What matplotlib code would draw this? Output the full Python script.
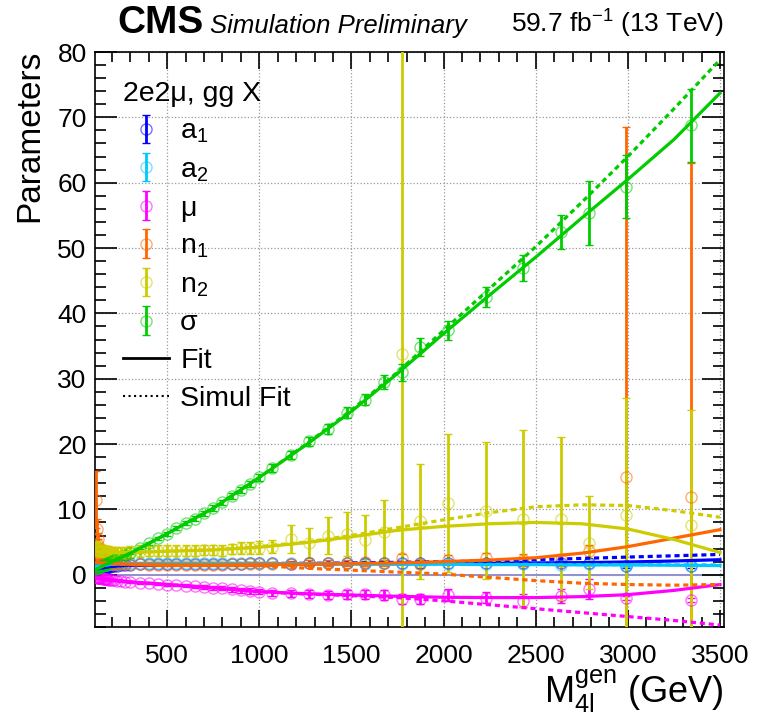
import matplotlib
matplotlib.use('Agg')
import matplotlib.pyplot as plt
from matplotlib.lines import Line2D
from matplotlib.colors import to_rgba
from matplotlib.ticker import MultipleLocator

plt.rcParams['font.family'] = ['Liberation Sans', 'DejaVu Sans']
plt.rcParams['mathtext.fontset'] = 'custom'
plt.rcParams['mathtext.rm'] = 'Liberation Sans'
plt.rcParams['mathtext.it'] = 'Liberation Sans:italic'
plt.rcParams['mathtext.bf'] = 'Liberation Sans:bold'

# mass points (GeV)
masses = [115, 120, 124, 125, 126, 130, 135, 140, 145, 150,
          155, 160, 165, 170, 175, 180, 190, 200, 210, 230,
          250, 270, 300, 350, 400, 450, 500, 550, 600, 650,
          700, 750, 800, 850, 900, 950, 1000, 1070, 1170, 1270,
          1370, 1475, 1575, 1675, 1775, 1870, 2025, 2230, 2430, 2635,
          2790, 2990, 3345]

a1 = [0.7, 0.75, 0.8, 0.8, 0.8, 0.85, 0.9, 0.9, 0.95, 1.0,
      1.0, 1.05, 1.1, 1.1, 1.15, 1.2, 1.25, 1.3, 1.35, 1.4,
      1.45, 1.5, 1.55, 1.6, 1.6, 1.65, 1.65, 1.65, 1.7, 1.7,
      1.7, 1.7, 1.7, 1.7, 1.7, 1.75, 1.75, 1.75, 1.7, 1.75,
      1.75, 1.8, 1.75, 1.8, 1.8, 1.75, 1.8, 1.8, 1.8, 1.8,
      1.8, 1.35, 1.4]
a1_err = [0.1] * 37 + [0.1, 0.1, 0.1, 0.1, 0.15, 0.15, 0.15, 0.2, 0.2,
                       0.2, 0.2, 0.25, 0.25, 0.3, 0.3, 0.3]

a2 = [1.2, 1.25, 1.3, 1.3, 1.3, 1.35, 1.4, 1.4, 1.45, 1.5,
      1.5, 1.5, 1.55, 1.55, 1.6, 1.6, 1.65, 1.65, 1.7, 1.7,
      1.75, 1.75, 1.8, 1.8, 1.8, 1.8, 1.8, 1.8, 1.8, 1.8,
      1.8, 1.8, 1.8, 1.8, 1.8, 1.8, 1.8, 1.8, 1.8, 1.75,
      1.8, 1.75, 1.7, 1.75, 1.7, 1.6, 1.7, 1.6, 1.6, 1.55,
      1.6, 1.3, 1.4]
a2_err = [0.1] * 53

mu = [-0.4, -0.4, -0.45, -0.45, -0.45, -0.5, -0.5, -0.55, -0.55, -0.6,
      -0.6, -0.65, -0.65, -0.7, -0.7, -0.75, -0.75, -0.8, -0.85, -0.9,
      -1.0, -1.05, -1.1, -1.2, -1.3, -1.4, -1.5, -1.6, -1.7, -1.8,
      -1.9, -2.0, -2.1, -2.25, -2.4, -2.5, -2.6, -2.8, -2.85, -2.95,
      -3.05, -3.0, -3.0, -3.1, -3.7, -3.7, -3.1, -3.5, -4.0, -3.3,
      -2.2, -3.6, -3.8]
mu_err = [0.1] * 22 + [0.1, 0.15, 0.15, 0.2, 0.2, 0.2, 0.25, 0.25, 0.3,
                       0.3, 0.3, 0.35, 0.35, 0.4, 0.4, 0.5, 0.5, 0.6, 0.6,
                       0.7, 0.7, 0.8, 0.8, 0.8, 0.9, 0.8, 1.0, 1.1, 1.5,
                       0.3, 0.3]

n1 = [11.5, 7.0, 5.4, 4.6, 3.8, 3.2, 2.8, 2.5, 2.3, 2.1,
      2.0, 1.9, 1.85, 1.8, 1.8, 1.75, 1.7, 1.7, 1.65, 1.65,
      1.6, 1.6, 1.6, 1.6, 1.55, 1.55, 1.55, 1.55, 1.55, 1.55,
      1.55, 1.55, 1.55, 1.6, 1.6, 1.6, 1.6, 1.6, 1.7, 1.8,
      1.8, 1.8, 1.9, 1.8, 2.6, 1.7, 2.3, 2.6, 2.3, 2.3,
      3.6, 15.0, 11.9]
n1_err = [4.3, 1.5, 1.0, 0.8, 0.7, 0.5, 0.4, 0.3, 0.3, 0.3,
          0.2, 0.2, 0.2, 0.2, 0.2, 0.2, 0.2, 0.2, 0.2, 0.2,
          0.2, 0.2, 0.2, 0.2, 0.2, 0.2, 0.2, 0.2, 0.2, 0.2,
          0.2, 0.2, 0.25, 0.25, 0.25, 0.3, 0.3, 0.3, 0.35, 0.4,
          0.4, 0.45, 0.5, 0.5, 0.6, 0.6, 0.7, 0.8, 0.9, 0.9,
          1.0, 53.5, 51.1]

n2 = [4.0, 3.9, 3.8, 3.8, 3.8, 3.7, 3.7, 3.6, 3.6, 3.6,
      3.5, 3.5, 3.5, 3.5, 3.5, 3.5, 3.4, 3.4, 3.4, 3.4,
      3.4, 3.4, 3.5, 3.6, 3.6, 3.7, 3.7, 3.7, 3.7, 3.7,
      3.8, 3.8, 3.7, 3.9, 4.1, 4.1, 4.1, 4.3, 5.5, 4.8,
      6.0, 6.2, 5.3, 6.5, 33.8, 8.2, 11.0, 9.8, 8.6, 8.6,
      4.9, 9.1, 7.6]
n2_err = [1.2, 1.1, 1.0, 1.0, 1.0, 1.0, 0.9, 0.9, 0.9, 0.9,
          0.9, 0.9, 0.9, 0.9, 0.9, 0.9, 0.9, 0.9, 0.9, 0.9,
          0.9, 0.9, 0.9, 0.9, 0.8, 0.8, 0.8, 0.8, 0.8, 0.8,
          0.8, 0.8, 0.8, 0.8, 0.9, 0.9, 1.0, 1.0, 2.1, 2.3,
          2.9, 3.4, 3.8, 5.0, 120.0, 8.8, 10.6, 10.5, 13.5, 12.5,
          7.1, 18.0, 17.6]

sigma = [0.9, 1.0, 1.05, 1.1, 1.1, 1.15, 1.2, 1.3, 1.35, 1.4,
         1.5, 1.55, 1.6, 1.7, 1.75, 1.8, 1.95, 2.1, 2.2, 2.5,
         2.75, 3.0, 3.35, 4.1, 4.8, 5.55, 6.3, 7.1, 7.85, 8.6,
         9.4, 10.2, 11.1, 12.0, 12.9, 13.9, 14.9, 16.3, 18.3, 20.4,
         22.3, 24.8, 26.8, 29.5, 31.0, 34.8, 37.4, 42.5, 46.9, 52.5,
         55.3, 59.4, 68.8]
sigma_err = [0.1, 0.1, 0.1, 0.1, 0.1, 0.1, 0.1, 0.1, 0.1, 0.1,
             0.1, 0.1, 0.1, 0.1, 0.1, 0.1, 0.1, 0.15, 0.15, 0.15,
             0.15, 0.2, 0.2, 0.2, 0.25, 0.25, 0.3, 0.3, 0.3, 0.35,
             0.35, 0.4, 0.4, 0.45, 0.45, 0.5, 0.5, 0.6, 0.6, 0.7,
             0.7, 0.8, 0.9, 1.0, 1.3, 1.4, 1.5, 1.6, 2.0, 2.6,
             4.9, 4.8, 5.6]

# fitted curves, read at these masses
fit_x = [100, 200, 300, 500, 750, 1000, 1250, 1500, 1750, 2000,
         2250, 2500, 2750, 3000, 3250, 3500]
a1_fit = [0.8, 1.3, 1.5, 1.6, 1.65, 1.65, 1.65, 1.7, 1.7, 1.75, 1.75, 1.8, 1.85, 1.95, 2.1, 2.3]
a1_sim = [0.8, 1.3, 1.5, 1.6, 1.65, 1.7, 1.75, 1.8, 1.9, 2.0, 2.1, 2.3, 2.5, 2.7, 2.9, 3.1]
a2_fit = [1.2, 1.6, 1.7, 1.75, 1.75, 1.7, 1.7, 1.65, 1.6, 1.6, 1.55, 1.55, 1.5, 1.5, 1.45, 1.4]
a2_sim = [1.2, 1.6, 1.7, 1.75, 1.75, 1.75, 1.7, 1.7, 1.65, 1.65, 1.6, 1.6, 1.55, 1.55, 1.5, 1.5]
mu_fit = [-0.3, -0.8, -1.1, -1.5, -2.0, -2.6, -2.9, -3.1, -3.3, -3.45, -3.5, -3.5, -3.35, -3.05, -2.4, -1.5]
mu_sim = [-0.3, -0.8, -1.1, -1.5, -2.0, -2.6, -2.95, -3.2, -3.5, -4.0, -4.6, -5.2, -5.8, -6.4, -7.0, -7.7]
n1_fit = [1.9, 1.7, 1.6, 1.55, 1.55, 1.6, 1.6, 1.7, 1.8, 2.0, 2.25, 2.6, 3.3, 4.3, 5.6, 6.9]
n1_sim = [1.9, 1.7, 1.6, 1.55, 1.5, 1.4, 1.0, 0.7, 0.4, 0.1, -0.4, -0.9, -1.3, -1.5, -1.6, -1.5]
n2_fit = [3.6, 3.4, 3.4, 3.6, 3.8, 4.2, 4.9, 5.8, 6.8, 7.4, 7.8, 8.0, 7.8, 7.0, 5.4, 3.4]
n2_sim = [3.6, 3.4, 3.4, 3.6, 3.8, 4.3, 5.0, 6.0, 7.2, 8.4, 9.5, 10.4, 10.7, 10.6, 9.8, 8.8]
sigma_fit = [0.6, 2.0, 3.3, 6.3, 10.2, 14.9, 19.8, 25.0, 30.8, 36.9, 42.8, 48.6, 54.6, 60.5, 66.6, 73.7]
sigma_sim = [0.6, 2.0, 3.3, 6.3, 10.2, 14.9, 19.9, 25.2, 31.0, 37.4, 43.8, 50.2, 57.0, 64.0, 71.3, 78.8]

params = [
    (r'$\mathrm{a}_{1}$', '#0000ff', a1, a1_err, a1_fit, a1_sim),
    (r'$\mathrm{a}_{2}$', '#00c8ff', a2, a2_err, a2_fit, a2_sim),
    ('μ', '#ff00ff', mu, mu_err, mu_fit, mu_sim),
    (r'$\mathrm{n}_{1}$', '#ff6600', n1, n1_err, n1_fit, n1_sim),
    (r'$\mathrm{n}_{2}$', '#cccc00', n2, n2_err, n2_fit, n2_sim),
    ('σ', '#00cc00', sigma, sigma_err, sigma_fit, sigma_sim),
]

fig = plt.figure(figsize=(7.59, 7.14), dpi=100)
ax = fig.add_axes([95 / 759, 1 - 627 / 714, 629 / 759, 575 / 714])

ax.axhline(0, color='#7b7bdc', lw=1.2, zorder=1)

handles = []
labels = []
for lab, c, vals, errs, fit, sim in params:
    h = ax.errorbar(masses, vals, yerr=errs, fmt='o', ms=8, mfc='none',
                    mec=to_rgba(c, 0.55), mew=1.0, ecolor=c, elinewidth=2,
                    capsize=3, capthick=2, zorder=3)
    ax.plot(fit_x, fit, color=c, lw=2.3, zorder=4)
    ax.plot(fit_x, sim, color=c, lw=2.3, ls=(0, (1.6, 1.2)), zorder=4)
    handles.append(h)
    labels.append(lab)

handles.append(Line2D([], [], color='black', lw=2))
labels.append('Fit')
handles.append(Line2D([], [], color='black', lw=1.5, ls=':'))
labels.append('Simul Fit')

ax.legend(handles, labels, title='2e2μ, gg X', loc='upper left',
          bbox_to_anchor=(0.045, 0.95), frameon=False, fontsize=20.5,
          title_fontsize=20.5, handlelength=1.6, handletextpad=0.4,
          labelspacing=0.42, borderpad=0, borderaxespad=0, alignment='left')

ax.set_xlim(108, 3522)
ax.set_ylim(-8, 80)
ax.xaxis.set_major_locator(MultipleLocator(500))
ax.xaxis.set_minor_locator(MultipleLocator(100))
ax.yaxis.set_major_locator(MultipleLocator(10))
ax.yaxis.set_minor_locator(MultipleLocator(2))
ax.tick_params(which='both', direction='in', top=True, right=True,
               labelsize=19, width=1.2)
ax.tick_params(axis='x', which='major', length=12, pad=12)
ax.tick_params(axis='x', which='minor', length=7)
ax.tick_params(axis='y', which='major', length=16, pad=6)
ax.tick_params(axis='y', which='minor', length=8)
ax.grid(True, which='major', color='#999999', ls=':', lw=0.9)
for s in ax.spines.values():
    s.set_linewidth(1.2)

fig.text(117 / 759, 1 - 33 / 714, 'CMS', fontsize=28, fontweight='bold',
         va='baseline', ha='left')
fig.text(210 / 759, 1 - 33 / 714, 'Simulation Preliminary', fontsize=18.5,
         style='italic', va='baseline', ha='left')
fig.text(724 / 759, 1 - 33 / 714, r'59.7 fb$^{\mathregular{-1}}$ (13 TeV)',
         fontsize=19, va='baseline', ha='right')
fig.text(30 / 759, 1 - 50 / 714, 'Parameters', fontsize=24, rotation=90,
         ha='center', va='top')
fig.text(724 / 759, 1 - 703 / 714, r'$\mathrm{M}_{\mathrm{4l}}^{\mathrm{gen}}$ (GeV)',
         fontsize=26, ha='right', va='baseline')

fig.savefig('out.png', dpi=100)
